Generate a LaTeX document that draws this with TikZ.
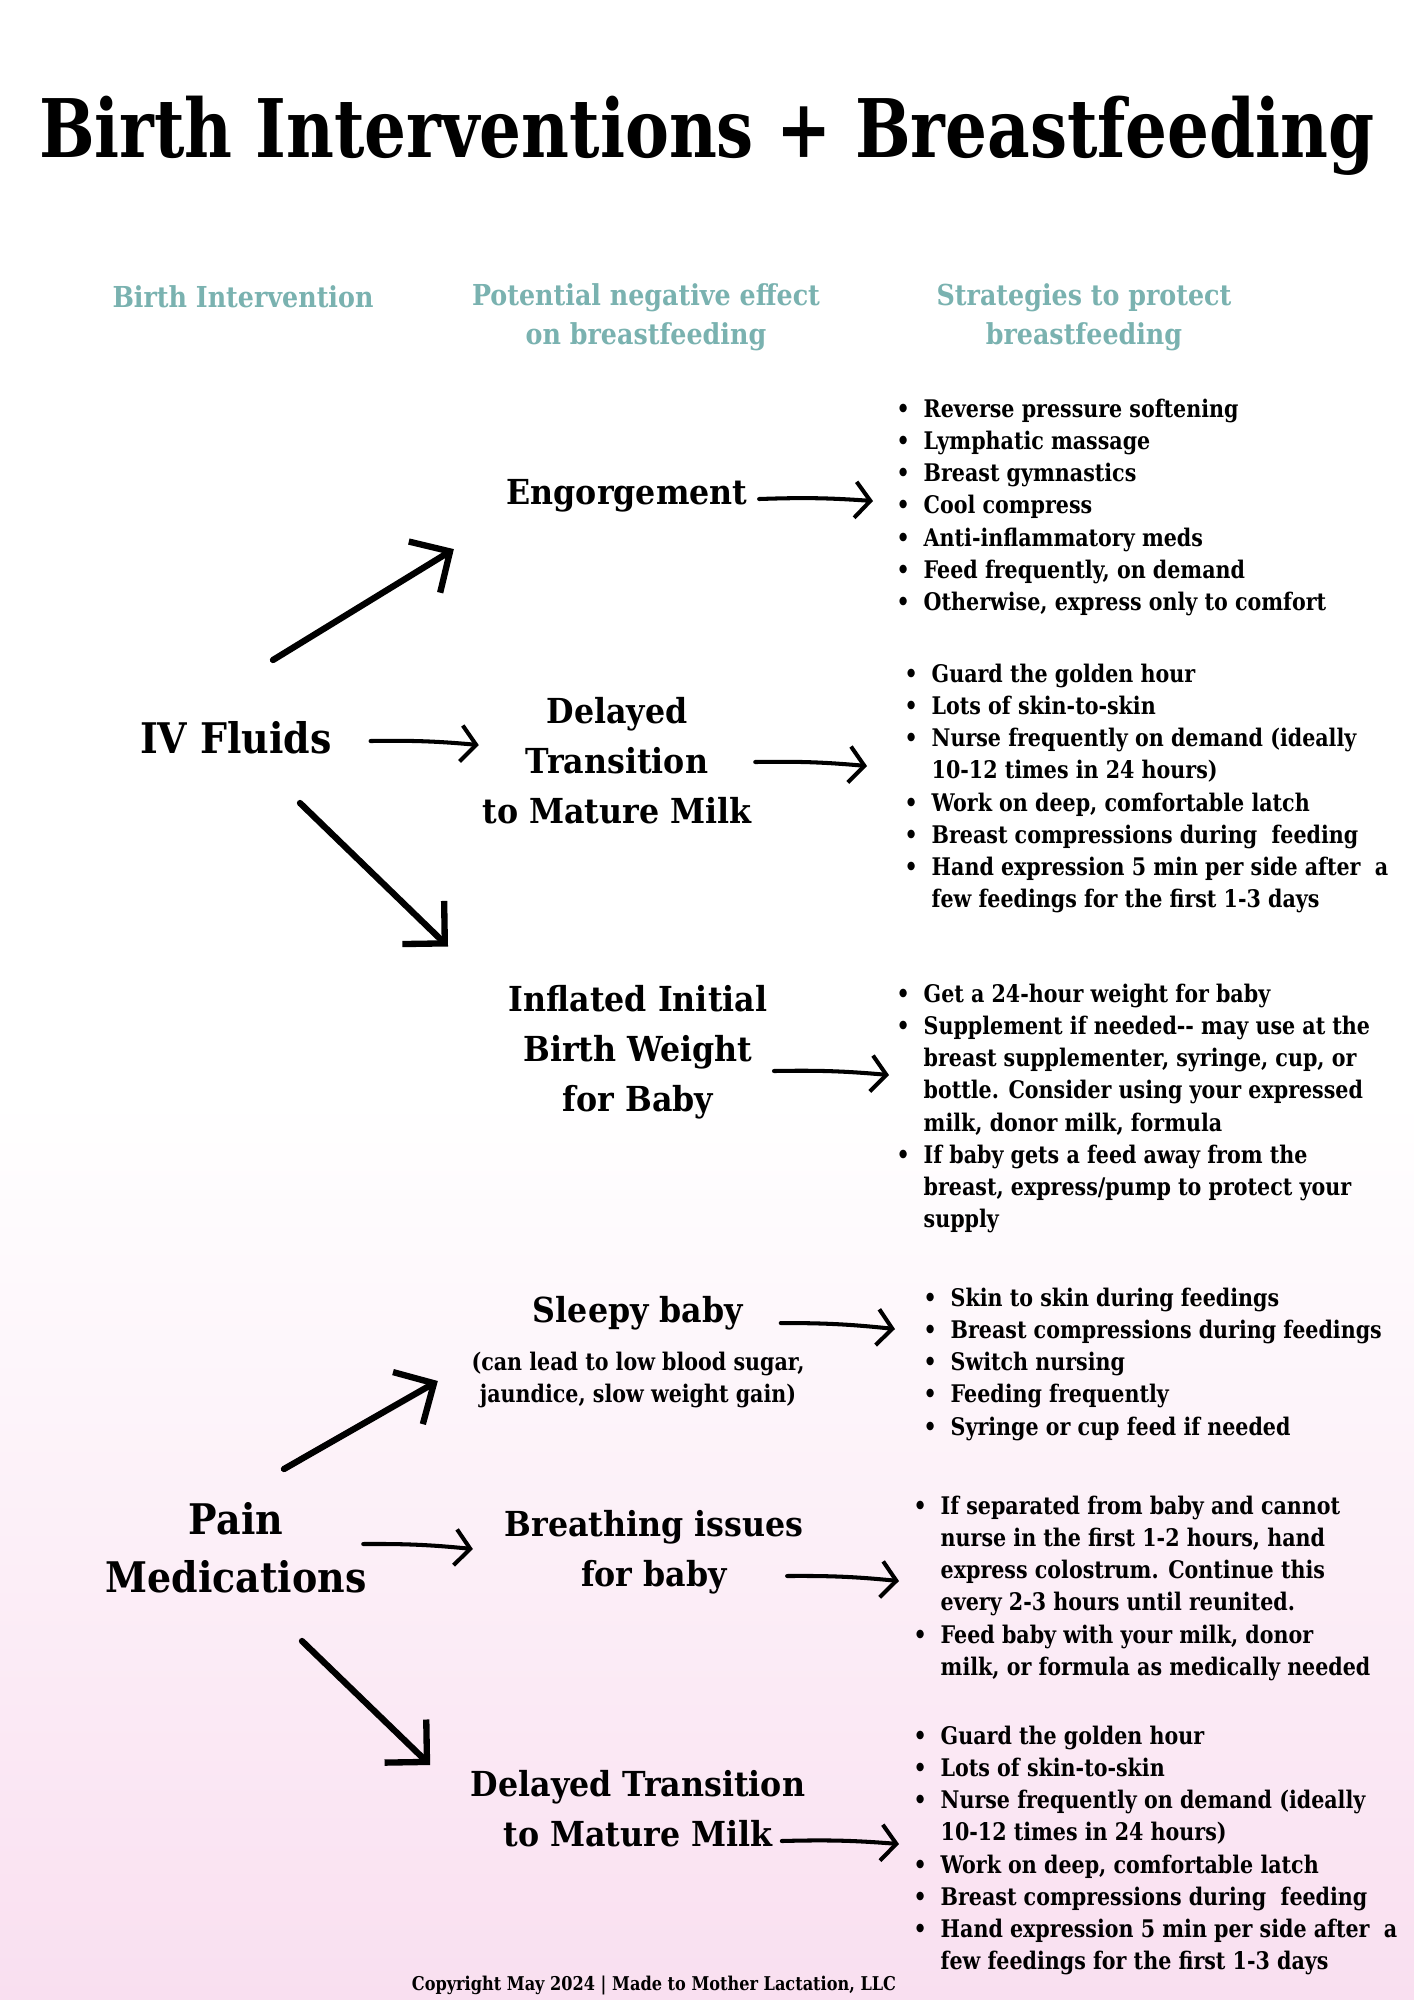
\documentclass[tikz,border=0pt]{standalone}
\usepackage{fontspec}
\setmainfont{DejaVu Serif}
\newfontfamily\titlefont{DejaVu Serif}[FakeStretch=0.815]
\newfontfamily\headfont{DejaVu Serif}[FakeStretch=0.88]
\newfontfamily\causefont{DejaVu Serif}[FakeStretch=0.9]
\newfontfamily\effectfont{DejaVu Serif}[FakeStretch=0.92]
\newfontfamily\bodyfont{DejaVu Serif}[FakeStretch=0.85]
\usetikzlibrary{arrows.meta, positioning, calc}

\definecolor{headteal}{RGB}{122,178,176}
\definecolor{blush}{RGB}{249,223,240}

% bullet and hanging indent for the strategy lists
\newcommand{\itm}{\makebox[2.7mm][l]{\textbullet}}
\newcommand{\cnt}{\hspace*{2.7mm}}

\begin{document}
\begin{tikzpicture}[
    x=0.1mm, y=-0.1mm,
    title/.style={font=\titlefont\bfseries\fontsize{23}{27}\selectfont, inner sep=0},
    colhead/.style={font=\headfont\bfseries\fontsize{8.2}{11.2}\selectfont, text=headteal, align=center, inner sep=0},
    cause/.style={font=\causefont\bfseries\fontsize{12}{16.5}\selectfont, align=center, inner sep=0},
    effect/.style={font=\effectfont\bfseries\fontsize{9.8}{14.2}\selectfont, align=center, inner sep=0},
    tips/.style={font=\bodyfont\bfseries\fontsize{6.9}{9.17}\selectfont, align=left, inner sep=0, anchor=north west},
    arr/.style={-{Straight Barb[length=1.5mm,width=3.6mm]}, line width=1.15pt, line cap=round},
    bigarr/.style={-{Straight Barb[length=3mm,width=6mm]}, line width=1.8pt, line cap=round}
  ]
  \useasboundingbox (0,0) rectangle (1414,2000);
  % background wash
  \fill[white] (0,0) rectangle (1414,2000);
  \shade[top color=white, bottom color=blush] (0,1100) rectangle (1414,2000);

  % title and column heads
  \node[title, anchor=base] (title) at (707,157) {Birth Interventions + Breastfeeding};
  \node[colhead, anchor=base] (headcause) at (243,307) {Birth Intervention};
  \node[colhead] (headeffect) at (646,317) {Potential negative effect\\on breastfeeding};
  \node[colhead] (headtips) at (1084,317) {Strategies to protect\\breastfeeding};

  % birth interventions
  \node[cause] (ivfluids) at (236,738) {IV Fluids};
  \node[cause] (painmeds) at (236,1548) {Pain\\Medications};

  % negative effects
  \node[effect] (engorge) at (627,496) {Engorgement};
  \node[effect] (delayed) at (617,761) {Delayed\\Transition\\to Mature Milk};
  \node[effect] (inflated) at (638,1052) {Inflated Initial\\Birth Weight\\for Baby};
  \node[effect] (sleepy) at (638,1313) {Sleepy baby};
  \node[tips, anchor=center, align=center] (sleepynote) at (638,1380) {(can lead to low blood sugar,\\jaundice, slow weight gain)};
  \node[effect] (breathing) at (654,1552) {Breathing issues\\for baby};
  \node[effect] (latemilk) at (638,1809) {Delayed Transition\\to Mature Milk};

  % strategies
  \node[tips] (englist) at (896,398) {\itm Reverse pressure softening\\
    \itm Lymphatic massage\\
    \itm Breast gymnastics\\
    \itm Cool compress\\
    \itm Anti-inflammatory meds\\
    \itm Feed frequently, on demand\\
    \itm Otherwise, express only to comfort};
  \node[tips] (delayedlist) at (904,663) {\itm Guard the golden hour\\
    \itm Lots of skin-to-skin\\
    \itm Nurse frequently on demand (ideally\\
    \cnt 10-12 times in 24 hours)\\
    \itm Work on deep, comfortable latch\\
    \itm Breast compressions during\ \ feeding\\
    \itm Hand expression 5 min per side after\ \ a\\
    \cnt few feedings for the first 1-3 days};
  \node[tips] (inflatedlist) at (896,983) {\itm Get a 24-hour weight for baby\\
    \itm Supplement if needed{-}{-} may use at the\\
    \cnt breast supplementer, syringe, cup, or\\
    \cnt bottle. Consider using your expressed\\
    \cnt milk, donor milk, formula\\
    \itm If baby gets a feed away from the\\
    \cnt breast, express/pump to protect your\\
    \cnt supply};
  \node[tips] (sleepylist) at (923,1287) {\itm Skin to skin during feedings\\
    \itm Breast compressions during feedings\\
    \itm Switch nursing\\
    \itm Feeding frequently\\
    \itm Syringe or cup feed if needed};
  \node[tips] (breathlist) at (913,1495) {\itm If separated from baby and cannot\\
    \cnt nurse in the first 1-2 hours, hand\\
    \cnt express colostrum. Continue this\\
    \cnt every 2-3 hours until reunited.\\
    \itm Feed baby with your milk, donor\\
    \cnt milk, or formula as medically needed};
  \node[tips] (latelist) at (913,1725) {\itm Guard the golden hour\\
    \itm Lots of skin-to-skin\\
    \itm Nurse frequently on demand (ideally\\
    \cnt 10-12 times in 24 hours)\\
    \itm Work on deep, comfortable latch\\
    \itm Breast compressions during\ \ feeding\\
    \itm Hand expression 5 min per side after\ \ a\\
    \cnt few feedings for the first 1-3 days};

  \node[font=\bodyfont\bfseries\fontsize{5.4}{6.5}\selectfont, anchor=base, inner sep=0] (copyright) at (654,1990) {Copyright May 2024 | Made to Mother Lactation, LLC};

  % intervention -> effect
  \draw[bigarr] ($(ivfluids.north)+(37,-61)$) -- ($(engorge.south west)+(-52,36)$);
  \draw[arr] ($(ivfluids.east)+(38,3)$) to[bend left=3] ($(ivfluids.east -| delayed.west)+(-3,7)$);
  \draw[bigarr] ($(ivfluids.south)+(64,48)$) -- ($(inflated.north west)+(-60,-38)$);
  \draw[bigarr] ($(painmeds.north)+(48,-33)$) -- ($(sleepynote.west)+(-33,1)$);
  \draw[arr] ($(painmeds.east)+(-4,-4)$) to[bend left=3] ($(painmeds.east -| breathing.west)+(-31,1)$);
  \draw[bigarr] ($(painmeds.south)+(66,47)$) -- ($(latemilk.north west)+(-40,-5)$);

  % effect -> strategies
  \draw[arr] ($(engorge.east)+(11,3)$) to[bend left=3] ($(engorge.east -| englist.west)+(-23,5)$);
  \draw[arr] ($(delayed.east)+(3,1)$) to[bend left=3] ($(delayed.east -| delayedlist.west)+(-37,5)$);
  \draw[arr] ($(inflated.east)+(6,19)$) to[bend left=3] ($(inflated.east -| inflatedlist.west)+(-7,23)$);
  \draw[arr] ($(sleepy.east)+(37,10)$) to[bend left=3] ($(sleepy.east -| sleepylist.west)+(-28,16)$);
  \draw[arr] ($(breathing.east)+(-17,24)$) to[bend left=3] ($(breathing.east -| breathlist.west)+(-14,29)$);
  \draw[arr] ($(latemilk.east)+(-24,32)$) to[bend left=3] ($(latemilk.east -| latelist.west)+(-14,35)$);
\end{tikzpicture}
\end{document}
